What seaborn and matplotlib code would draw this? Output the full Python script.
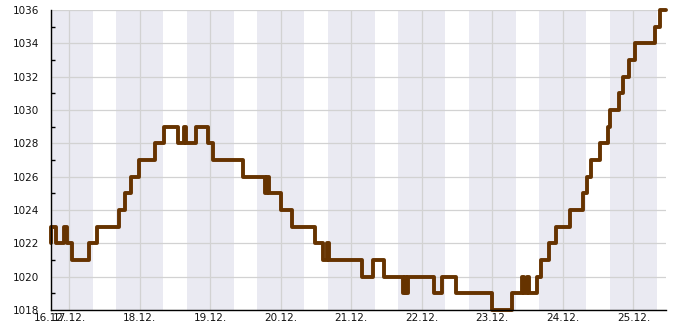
import numpy as np
import pandas as pd
import matplotlib
matplotlib.use("Agg")
import matplotlib.pyplot as plt
import seaborn as sns
from matplotlib.ticker import MultipleLocator

# ---- data (hours counted from 16.12. 00:00) ----
change_hours = [17.6, 17.8, 19.5, 22.2, 23.3, 24.8, 30.8, 33.5, 40.9, 43.0,
                45.0, 47.8, 53.2, 56.2, 61.1, 63.1, 63.8, 67.0, 71.1, 73.0,
                83.1, 90.6, 91.2, 92.1, 96.2, 99.7, 107.6, 110.5, 111.6, 112.4,
                123.7, 127.5, 131.1, 137.5, 138.1, 138.6, 139.2, 148.2, 150.8, 155.7,
                167.9, 174.6, 178.0, 178.8, 179.7, 180.4, 183.1, 184.6, 187.2, 189.5,
                194.5, 198.9, 200.1, 201.6, 204.7, 207.2, 208.2, 211.2, 212.5, 214.5,
                216.7, 223.4, 225.1, 227.1]
pressure = [1022, 1023, 1022, 1023, 1022, 1021, 1022, 1023, 1024, 1025,
            1026, 1027, 1028, 1029, 1028, 1029, 1028, 1029, 1028, 1027,
            1026, 1025, 1026, 1025, 1024, 1023, 1022, 1021, 1022, 1021,
            1020, 1021, 1020, 1019, 1020, 1019, 1020, 1019, 1020, 1019,
            1018, 1019, 1020, 1019, 1020, 1019, 1020, 1021, 1022, 1023,
            1024, 1025, 1026, 1027, 1028, 1029, 1030, 1031, 1032, 1033,
            1034, 1035, 1036, 1036]

tick_labels = ["16.12.", "17.12.", "18.12.", "19.12.", "20.12.", "21.12.",
               "22.12.", "23.12.", "24.12.", "25.12."]
midnight_hours = [24, 48, 72, 96, 120, 144, 168, 192, 216]
night_start = 16   # shaded from 16:00
night_end = 8      # until 08:00
y_ticks = list(range(1018, 1037, 2))

df = pd.DataFrame({"hour": change_hours, "hPa": pressure})

sns.set_style("white")
plt.rcParams["font.family"] = ["DejaVu Sans"]

fig = plt.figure(figsize=(6.85, 3.3), dpi=100)
ax = fig.add_axes([50.5 / 685, 20 / 330, (666 - 50.5) / 685, 300 / 330])

x0, x1 = change_hours[0], change_hours[-1]
# night bands
for m in [0] + midnight_hours:
    a = max(m - 24 + night_start, x0)
    b = min(m + night_end, x1)
    if b > a:
        ax.axvspan(a, b, color="#EAEAF2", lw=0, zorder=0.2)

sns.lineplot(data=df, x="hour", y="hPa", drawstyle="steps-post",
             color="#663300", linewidth=2.8, ax=ax, zorder=3, clip_on=False)

ax.set_xlim(x0, x1)
ax.set_ylim(1018, 1036)
ax.set_xticks([x0] + midnight_hours)
ax.set_xticklabels(tick_labels)
ax.set_yticks(y_ticks)
ax.yaxis.set_minor_locator(MultipleLocator(1))
ax.set_xlabel("")
ax.set_ylabel("")

ax.set_axisbelow(True)
ax.grid(True, which="major", color="#d2d2d2", linewidth=0.9)
ax.tick_params(axis="x", which="major", direction="in", length=4, width=1,
               color="black", labelsize=7.5, pad=2, labelcolor="#111111")
ax.tick_params(axis="y", which="major", direction="in", length=0,
               labelsize=7.5, pad=8, labelcolor="#111111")
ax.tick_params(axis="y", which="minor", direction="in", length=3, width=1,
               color="black", left=True)

for s in ["top", "right"]:
    ax.spines[s].set_visible(False)
for s in ["left", "bottom"]:
    ax.spines[s].set_color("black")
    ax.spines[s].set_linewidth(1)
    ax.spines[s].set_zorder(4)

fig.savefig("out.png", dpi=100)
